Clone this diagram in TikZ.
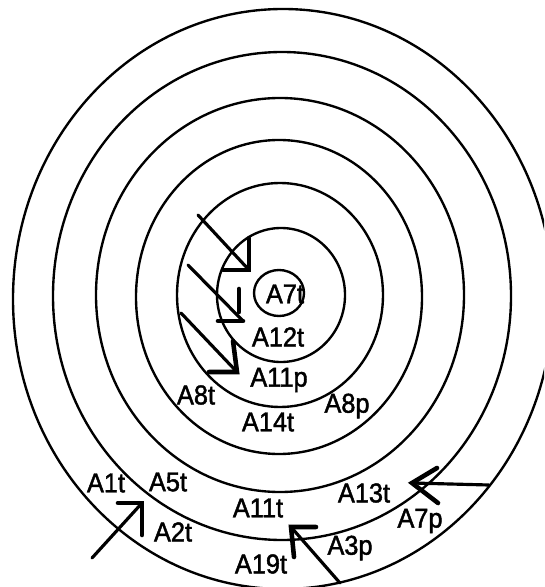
\documentclass[tikz,border=0pt]{standalone}
\usepackage{fontspec}
\setmainfont{Liberation Sans}
\newfontfamily\lblfont{Liberation Sans}[FakeStretch=0.93, FakeBold=1.6]

\begin{document}
\begin{tikzpicture}[x=0.02cm, y=-0.02cm,
    ring/.style={draw=black, line width=1.35pt},
    shaft/.style={draw=black, line width=1.8pt, line cap=round},
    barb/.style={draw=black, line width=2.6pt, line cap=round, line join=miter},
    lbl/.style={font=\lblfont\fontsize{15.5}{16}\selectfont, inner sep=0pt, text=black}
]
    \useasboundingbox (0,0) rectangle (544,587);

    % Concentric rings (innermost first)
    \begin{scope}
        \clip (0,0) rectangle (544,587);
        \foreach \cx/\cy/\rx/\ry in {279/293/25/23, 281/295/64/67, 280/295/103/112, 279/297/143/157,
                                     280/295/184/197, 282/296/229/244, 283/299/270/290}
            \draw[ring] (\cx,\cy) ellipse [x radius=\rx*0.02cm, y radius=\ry*0.02cm];
    \end{scope}

    % Labels inside the rings
    \node[lbl] (a7t) at (285,294) {A7t};
    \node[lbl] (a12t) at (278,337) {A12t};
    \node[lbl] (a11p) at (279,380) {A11p};
    \node[lbl] (a8t) at (196,395) {A8t};
    \node[lbl] (a8p) at (347,406) {A8p};
    \node[lbl] (a14t) at (268,422) {A14t};

    % Labels in the outer rings
    \node[lbl] (a1t) at (106,483) {A1t};
    \node[lbl] (a5t) at (168,482) {A5t};
    \node[lbl] (a11t) at (258,508) {A11t};
    \node[lbl] (a13t) at (364,493) {A13t};
    \node[lbl] (a2t) at (173,532) {A2t};
    \node[lbl] (a7p) at (420,521) {A7p};
    \node[lbl] (a19t) at (261,564) {A19t};
    \node[lbl] (a3p) at (350,548) {A3p};

    % Arrow ends
    \coordinate (tail1) at (198,215);  \coordinate (tip1) at (249,270);
    \coordinate (tail2) at (188,265);  \coordinate (tip2) at (243,321);
    \coordinate (tail3) at (181,313);  \coordinate (tip3) at (237,372);
    \coordinate (tail4) at (92,558);   \coordinate (tip4) at (142,503);
    \coordinate (tail5) at (340,583);  \coordinate (tip5) at (291,527);
    \coordinate (tail6) at (489,485);  \coordinate (tip6) at (412,483);

    % Shafts
    \foreach \i in {1,...,6}
        \draw[shaft] (tail\i) -- (tip\i);

    % Hand-drawn heads
    \draw[barb] ([yshift=0.64cm]tip1) -- (tip1) -- ([xshift=-0.52cm]tip1);
    \draw[barb] ([xshift=-0.5cm]tip2) -- (tip2);
    \draw[barb] ([xshift=-0.08cm, yshift=0.64cm]tip2) -- ([xshift=-0.08cm, yshift=0.18cm]tip2);
    \draw[barb] ([xshift=-0.08cm, yshift=0.62cm]tip3) -- (tip3) -- ([xshift=-0.56cm]tip3);
    \draw[barb] ([xshift=-0.48cm]tip4) -- (tip4) -- ([yshift=-0.64cm]tip4);
    \draw[barb] ([xshift=0.5cm]tip5) -- (tip5) -- ([xshift=0.06cm, yshift=-0.6cm]tip5);
    \draw[barb] ([xshift=0.5cm, yshift=0.3cm]tip6) -- (tip6) -- ([xshift=0.52cm, yshift=-0.4cm]tip6);
\end{tikzpicture}
\end{document}
